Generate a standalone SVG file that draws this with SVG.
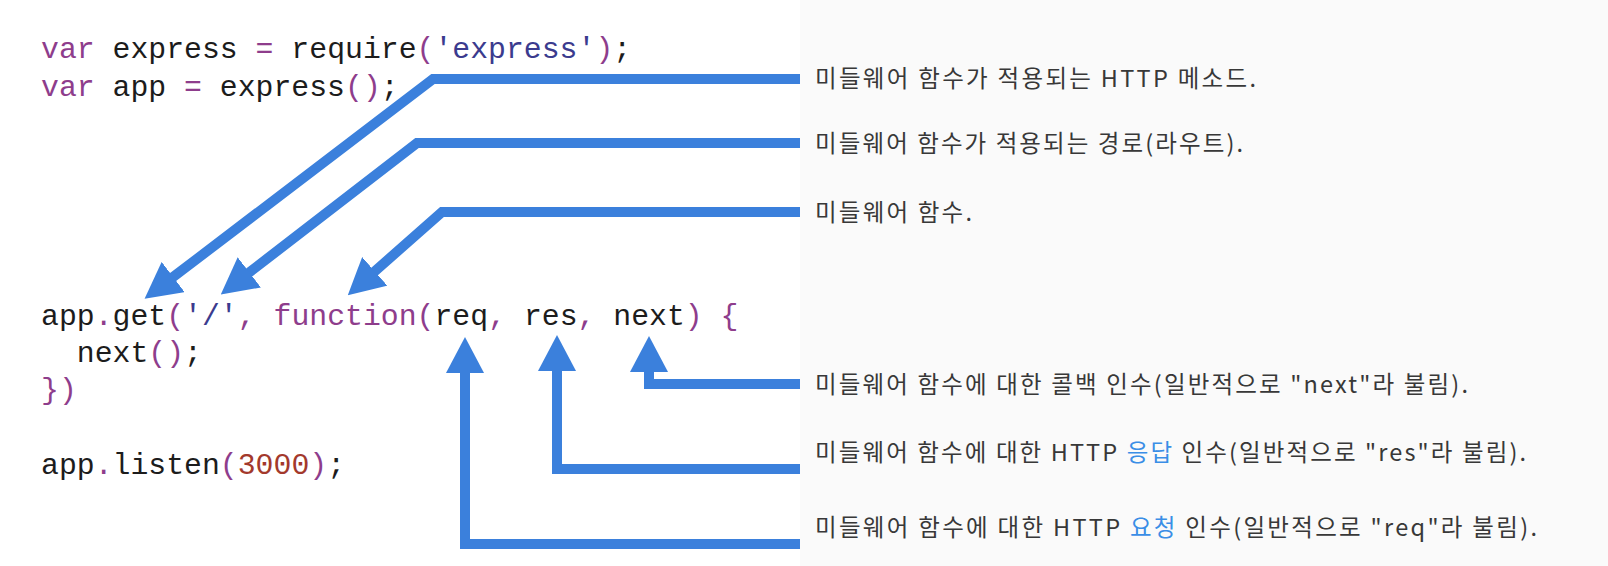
<svg xmlns="http://www.w3.org/2000/svg" width="1608" height="566" viewBox="0 0 1608 566">
  <defs>
    <style>
      .code { font-family: "Liberation Mono", "DejaVu Sans Mono", monospace; font-size: 29.8px; fill: #1c1c1c; white-space: pre; }
      .k { fill: #8e3d8c; }
      .s { fill: #3b3b8e; }
      .n { fill: #a3392c; }
      .lbl { font-family: "Noto Sans CJK KR", "Noto Sans", sans-serif; font-size: 23.5px; fill: #383838; }
      .hl { fill: #3a8ee6; }
      .arrow { fill: none; stroke: #3b80dc; stroke-width: 10; stroke-linejoin: miter; stroke-linecap: butt; marker-end: url(#head); }
    </style>
    <marker id="head" viewBox="0 0 36 38" refX="1" refY="19" markerWidth="36" markerHeight="38" markerUnits="userSpaceOnUse" orient="auto">
      <path d="M0,0 L36,19 L0,38 z" fill="#3b80dc"/>
    </marker>
  </defs>

  <rect x="0" y="0" width="1608" height="566" fill="#ffffff"/>
  <rect x="800" y="0" width="808" height="566" fill="#fafafa"/>

  <g id="code">
    <text class="code" x="41" y="58"><tspan class="k">var</tspan> express <tspan class="k">=</tspan> require<tspan class="k">(</tspan><tspan class="s">'express'</tspan><tspan class="k">)</tspan>;</text>
    <text class="code" x="41" y="96"><tspan class="k">var</tspan> app <tspan class="k">=</tspan> express<tspan class="k">()</tspan>;</text>
    <text class="code" x="41" y="325">app<tspan class="k">.</tspan>get<tspan class="k">(</tspan><tspan class="s">'/'</tspan><tspan class="k">,</tspan> <tspan class="k">function(</tspan>req<tspan class="k">,</tspan> res<tspan class="k">,</tspan> next<tspan class="k">) {</tspan></text>
    <text class="code" x="76.8" y="362">next<tspan class="k">()</tspan>;</text>
    <text class="code" x="41" y="399"><tspan class="k">})</tspan></text>
    <text class="code" x="41" y="474">app<tspan class="k">.</tspan>listen<tspan class="k">(</tspan><tspan class="n">3000</tspan><tspan class="k">)</tspan>;</text>
  </g>

  <g id="connectors">
    <path class="arrow" d="M800,79 H433 L172.4,277.6"/>
    <path class="arrow" d="M800,143 H417 L248.5,273"/>
    <path class="arrow" d="M800,212 H442 L374,272"/>
    <path class="arrow" d="M800,384 H649 V371"/>
    <path class="arrow" d="M800,469 H557 V370"/>
    <path class="arrow" d="M800,544 H465 V372"/>
  </g>

  <g id="label-method">
    <text class="lbl" x="815" y="87" textLength="441" lengthAdjust="spacing">미들웨어 함수가 적용되는 HTTP 메소드.</text>
  </g>
  <g id="label-route">
    <text class="lbl" x="815" y="152" textLength="428" lengthAdjust="spacing">미들웨어 함수가 적용되는 경로(라우트).</text>
  </g>
  <g id="label-function">
    <text class="lbl" x="815" y="221" textLength="157" lengthAdjust="spacing">미들웨어 함수.</text>
  </g>
  <g id="label-next">
    <text class="lbl" x="815" y="393" textLength="653" lengthAdjust="spacing">미들웨어 함수에 대한 콜백 인수(일반적으로 "next"라 불림).</text>
  </g>
  <g id="label-res">
    <text class="lbl" x="815" y="461" textLength="711" lengthAdjust="spacing">미들웨어 함수에 대한 HTTP <tspan class="hl">응답</tspan> 인수(일반적으로 "res"라 불림).</text>
  </g>
  <g id="label-req">
    <text class="lbl" x="815" y="536" textLength="722" lengthAdjust="spacing">미들웨어 함수에 대한 HTTP <tspan class="hl">요청</tspan> 인수(일반적으로 "req"라 불림).</text>
  </g>
</svg>
